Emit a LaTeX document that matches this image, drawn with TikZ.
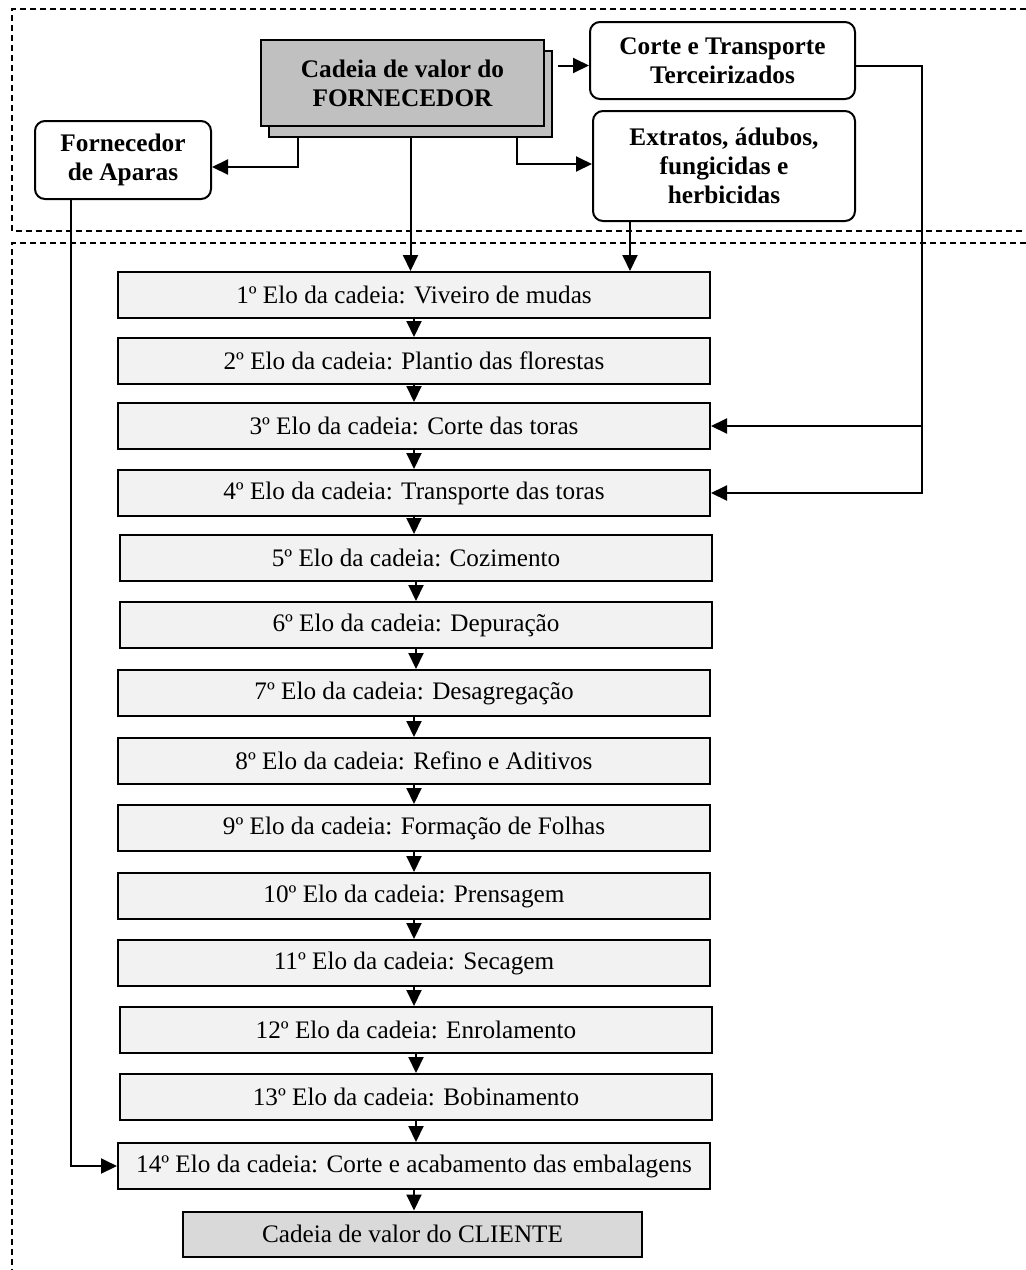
\documentclass[tikz,border=0pt]{standalone}
\usepackage{fontspec}
\setmainfont{Liberation Serif}
\usetikzlibrary{arrows.meta}
\definecolor{elofill}{HTML}{F2F2F2}
\definecolor{fornfill}{HTML}{C0C0C0}
\definecolor{clifill}{HTML}{D9D9D9}

\begin{document}
\begin{tikzpicture}[x=1pt,y=-1pt,
  txt/.style={font=\fontsize{25.2}{29}\selectfont},
  elo/.style={txt,draw,line width=2pt,fill=elofill,minimum width=592pt,minimum height=46pt,inner sep=0pt},
  topbox/.style={draw,line width=2pt,rounded corners=10pt,fill=white,align=center,inner sep=0pt,font=\fontsize{25.3}{29}\selectfont\bfseries},
  forn/.style={draw,line width=2pt,fill=fornfill,minimum width=283pt,minimum height=86pt,inner sep=0pt},
  arr/.style={line width=2pt,-{Triangle[length=16pt,width=15pt]}},
  frame/.style={line width=1.3pt,dash pattern=on 6pt off 4pt}]
\useasboundingbox (0,0) rectangle (1026,1270);

\draw[frame] (1026,9) -- (12,9) -- (12,231) -- (1026,231);
\draw[frame] (1026,243) -- (12,243) -- (12,1270);

\node[forn] (fornsh) at (410.5,94) {};
\node[forn,align=center,font=\fontsize{25.3}{29}\selectfont\bfseries] (forn) at (402.5,83) {Cadeia de valor do\\FORNECEDOR};
\node[topbox,minimum width=265pt,minimum height=77pt] (corte) at (722.5,60.5) {Corte e Transporte\\Terceirizados};
\node[topbox,minimum width=262pt,minimum height=110pt] (extr) at (724,166) {Extratos, ádubos,\\fungicidas e\\herbicidas};
\node[topbox,minimum width=176pt,minimum height=78pt] (aparas) at (123,160) {Fornecedor\\de Aparas};

\node[elo] (e1) at (414,295) {1º Elo da cadeia: Viveiro de mudas};
\node[elo] (e2) at (414,361) {2º Elo da cadeia: Plantio das florestas};
\node[elo] (e3) at (414,426) {3º Elo da cadeia: Corte das toras};
\node[elo] (e4) at (414,493) {4º Elo da cadeia: Transporte das toras};
\node[elo] (e5) at (416,558) {5º Elo da cadeia: Cozimento};
\node[elo] (e6) at (416,625) {6º Elo da cadeia: Depuração};
\node[elo] (e7) at (414,693) {7º Elo da cadeia: Desagregação};
\node[elo] (e8) at (414,761) {8º Elo da cadeia: Refino e Aditivos};
\node[elo] (e9) at (414,828) {9º Elo da cadeia: Formação de Folhas};
\node[elo] (e10) at (414,896) {10º Elo da cadeia: Prensagem};
\node[elo] (e11) at (414,963) {11º Elo da cadeia: Secagem};
\node[elo] (e12) at (416,1030) {12º Elo da cadeia: Enrolamento};
\node[elo] (e13) at (416,1097) {13º Elo da cadeia: Bobinamento};
\node[elo] (e14) at (414,1166) {14º Elo da cadeia: Corte e acabamento das embalagens};
\node[elo,fill=clifill,minimum width=459pt,minimum height=45pt] (cli) at (412.5,1234) {Cadeia de valor do CLIENTE};

\draw[arr] ([xshift=5pt,yshift=-5pt]fornsh.east |- corte.west) -- ([yshift=-5pt]corte.west);
\draw[arr] ([xshift=106.5pt]fornsh.south) |- ([yshift=2pt]extr.west);
\draw[arr] ([xshift=-112.5pt]fornsh.south) |- ([yshift=-7pt]aparas.east);
\draw[arr] (fornsh.south) -- (fornsh.south |- e1.north);
\draw[arr] ([xshift=-94pt]extr.south) -- ([xshift=-94pt]extr.south |- e1.north);

\coordinate (cr) at (922,493);
\draw[arr] ([yshift=-5pt]corte.east) -| (cr) -- (e4.east);
\draw[arr] (cr |- e3.east) -- (e3.east);

\draw[arr] ([xshift=-52pt]aparas.south) |- (e14.west);

\draw[arr] (e1.south) -- (e1.south |- e2.north);
\draw[arr] (e2.south) -- (e2.south |- e3.north);
\draw[arr] (e3.south) -- (e3.south |- e4.north);
\draw[arr] (e4.south) -- (e4.south |- e5.north);
\draw[arr] (e5.south) -- (e5.south |- e6.north);
\draw[arr] (e6.south) -- (e6.south |- e7.north);
\draw[arr] (e7.south) -- (e7.south |- e8.north);
\draw[arr] (e8.south) -- (e8.south |- e9.north);
\draw[arr] (e9.south) -- (e9.south |- e10.north);
\draw[arr] (e10.south) -- (e10.south |- e11.north);
\draw[arr] (e11.south) -- (e11.south |- e12.north);
\draw[arr] (e12.south) -- (e12.south |- e13.north);
\draw[arr] (e13.south) -- (e13.south |- e14.north);
\draw[arr] (e14.south) -- (e14.south |- cli.north);
\end{tikzpicture}
\end{document}
